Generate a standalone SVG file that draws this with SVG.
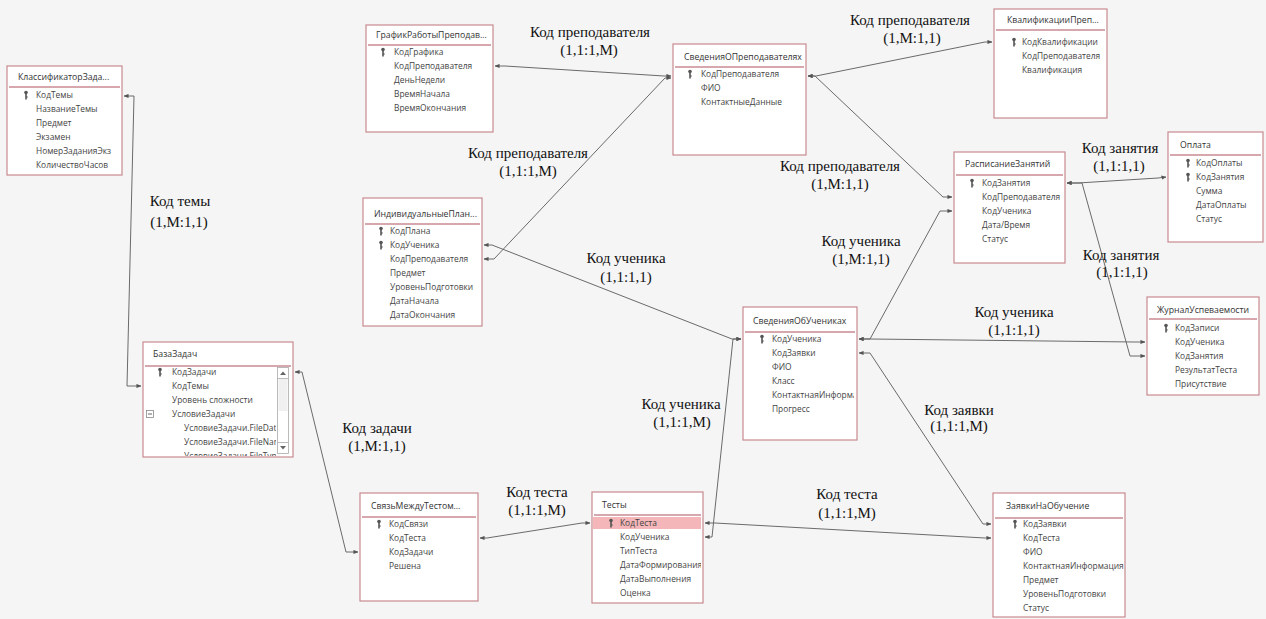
<svg xmlns="http://www.w3.org/2000/svg" width="1266" height="619" viewBox="0 0 1266 619">
<style>
.tb{fill:#fff;stroke:#c98a90;stroke-width:1.2}
.hd{stroke:#c98a90;stroke-width:1.6}
.t{font-family:"Open Sans","Noto Sans",sans-serif;font-size:8.7px;fill:#333}
.f{font-family:"Open Sans","Noto Sans",sans-serif;font-size:8.4px;fill:#444}
.c{fill:none;stroke:#6a6a6a;stroke-width:1;marker-start:url(#ar);marker-end:url(#ar)}
.lb{font-family:"Liberation Serif","Times New Roman",serif;font-size:15px;fill:#111;text-anchor:middle}
</style>
<defs>
<marker id="ar" viewBox="0 0 6 6" refX="5.5" refY="3" markerWidth="5" markerHeight="5" orient="auto-start-reverse" markerUnits="userSpaceOnUse"><path d="M0,0.5 L6,3 L0,5.5z" fill="#555"/></marker>
<g id="key"><circle cx="0" cy="-2.5" r="1.8" fill="#555"/><rect x="-0.8" y="-1.5" width="1.6" height="6" fill="#555"/><rect x="0" y="1.5" width="1.8" height="1" fill="#555"/></g>
<clipPath id="cpBZ"><rect x="144" y="343" width="132" height="113"/></clipPath>
<clipPath id="cpSU"><rect x="744" y="308" width="110" height="130"/></clipPath>
<clipPath id="cpTS"><rect x="593" y="493" width="108" height="108"/></clipPath>
</defs>
<rect width="1266" height="619" fill="#f5f5f5"/>

<g id="connectors">
<path class="c" d="M124,96 L134,96 L127,386 L141,386"/>
<path class="c" d="M495,66 L505,66 L664,76 L671,76"/>
<path class="c" d="M808,76 L816,76 L985,42 L992,42"/>
<path class="c" d="M671,78 L665,78 L494,259 L484,259"/>
<path class="c" d="M808,76 L815,76 L943,197 L952,197"/>
<path class="c" d="M484,245 L492,245 L732,339 L741,339"/>
<path class="c" d="M859,339 L870,339 L940,211 L952,211"/>
<path class="c" d="M1067,183 L1078,183 L1158,178 L1166,177"/>
<path class="c" d="M1067,183 L1082,183 L1130,356 L1145,356"/>
<path class="c" d="M859,339 L870,339 L1135,342 L1145,342"/>
<path class="c" d="M859,353 L870,353 L983,524 L991,524"/>
<path class="c" d="M741,339 L733,339 L712,537 L705,537"/>
<path class="c" d="M705,523 L715,523 L985,538 L991,538"/>
<path class="c" d="M590,523 L582,523 L487,538 L480,538"/>
<path class="c" d="M295,372 L302,372 L346,552 L358,552"/>
</g>

<g id="labels">
<text class="lb" x="180" y="206">Код темы</text><text class="lb" x="179" y="227">(1,М:1,1)</text>
<text class="lb" x="590" y="37">Код преподавателя</text><text class="lb" x="589" y="55">(1,1:1,М)</text>
<text class="lb" x="910" y="25">Код преподавателя</text><text class="lb" x="912" y="43">(1,М:1,1)</text>
<text class="lb" x="528" y="158">Код преподавателя</text><text class="lb" x="528" y="176">(1,1:1,М)</text>
<text class="lb" x="840" y="171">Код преподавателя</text><text class="lb" x="840" y="189">(1,М:1,1)</text>
<text class="lb" x="626" y="263">Код ученика</text><text class="lb" x="626" y="282">(1,1:1,1)</text>
<text class="lb" x="861" y="246">Код ученика</text><text class="lb" x="861" y="264">(1,М:1,1)</text>
<text class="lb" x="1120" y="153">Код занятия</text><text class="lb" x="1119" y="171">(1,1:1,1)</text>
<text class="lb" x="1121" y="260">Код занятия</text><text class="lb" x="1122" y="277">(1,1:1,1)</text>
<text class="lb" x="1014" y="317">Код ученика</text><text class="lb" x="1014" y="335">(1,1:1,1)</text>
<text class="lb" x="959" y="415">Код заявки</text><text class="lb" x="959" y="431">(1,1:1,М)</text>
<text class="lb" x="681" y="409">Код ученика</text><text class="lb" x="682" y="427">(1,1:1,М)</text>
<text class="lb" x="377" y="433">Код задачи</text><text class="lb" x="377" y="451">(1,М:1,1)</text>
<text class="lb" x="537" y="497">Код теста</text><text class="lb" x="537" y="515">(1,1:1,М)</text>
<text class="lb" x="847" y="499">Код теста</text><text class="lb" x="847" y="518">(1,1:1,М)</text>
</g>

<g id="t-klassifikator">
<rect class="tb" x="7" y="66" width="115" height="109"/>
<text class="t" x="18" y="80">КлассификаторЗада...</text>
<line class="hd" x1="9" y1="87" x2="120" y2="87"/>
<use href="#key" x="26" y="95"/>
<text class="f" x="36" y="98">КодТемы</text>
<text class="f" x="36" y="112">НазваниеТемы</text>
<text class="f" x="36" y="126">Предмет</text>
<text class="f" x="36" y="140">Экзамен</text>
<text class="f" x="36" y="154">НомерЗаданияЭкз</text>
<text class="f" x="36" y="168">КоличествоЧасов</text>
</g>

<g id="t-grafik">
<rect class="tb" x="366" y="25" width="127" height="107"/>
<text class="t" x="376" y="38">ГрафикРаботыПреподав...</text>
<line class="hd" x1="368" y1="45" x2="491" y2="45"/>
<use href="#key" x="383" y="52"/>
<text class="f" x="394" y="55">КодГрафика</text>
<text class="f" x="394" y="69">КодПреподавателя</text>
<text class="f" x="394" y="83">ДеньНедели</text>
<text class="f" x="394" y="97">ВремяНачала</text>
<text class="f" x="394" y="111">ВремяОкончания</text>
</g>

<g id="t-svedprep">
<rect class="tb" x="673" y="44" width="133" height="111"/>
<text class="t" x="684" y="60">СведенияОПреподавателях</text>
<line class="hd" x1="675" y1="67" x2="804" y2="67"/>
<use href="#key" x="690" y="74"/>
<text class="f" x="701" y="77">КодПреподавателя</text>
<text class="f" x="701" y="91">ФИО</text>
<text class="f" x="701" y="105">КонтактныеДанные</text>
</g>

<g id="t-kvalif">
<rect class="tb" x="994" y="9" width="113" height="109"/>
<text class="t" x="1007" y="23">КвалификацииПреп...</text>
<line class="hd" x1="996" y1="30" x2="1105" y2="30"/>
<use href="#key" x="1014" y="42"/>
<text class="f" x="1022" y="45">КодКвалификации</text>
<text class="f" x="1022" y="59">КодПреподавателя</text>
<text class="f" x="1022" y="73">Квалификация</text>
</g>

<g id="t-raspisanie">
<rect class="tb" x="954" y="152" width="111" height="111"/>
<text class="t" x="965" y="167">РасписаниеЗанятий</text>
<line class="hd" x1="956" y1="175" x2="1063" y2="175"/>
<use href="#key" x="972" y="183"/>
<text class="f" x="982" y="186">КодЗанятия</text>
<text class="f" x="982" y="200">КодПреподавателя</text>
<text class="f" x="982" y="214">КодУченика</text>
<text class="f" x="982" y="228">Дата/Время</text>
<text class="f" x="982" y="242">Статус</text>
</g>

<g id="t-oplata">
<rect class="tb" x="1168" y="132" width="95" height="110"/>
<text class="t" x="1180" y="148">Оплата</text>
<line class="hd" x1="1170" y1="155" x2="1261" y2="155"/>
<use href="#key" x="1188" y="163"/>
<use href="#key" x="1188" y="177"/>
<text class="f" x="1196" y="166">КодОплаты</text>
<text class="f" x="1196" y="180">КодЗанятия</text>
<text class="f" x="1196" y="194">Сумма</text>
<text class="f" x="1196" y="208">ДатаОплаты</text>
<text class="f" x="1196" y="222">Статус</text>
</g>

<g id="t-indplan">
<rect class="tb" x="363" y="198" width="119" height="128"/>
<text class="t" x="374" y="217">ИндивидуальныеПлан...</text>
<line class="hd" x1="365" y1="224" x2="480" y2="224"/>
<use href="#key" x="381" y="231"/>
<use href="#key" x="381" y="245"/>
<text class="f" x="390" y="234">КодПлана</text>
<text class="f" x="390" y="248">КодУченика</text>
<text class="f" x="390" y="262">КодПреподавателя</text>
<text class="f" x="390" y="276">Предмет</text>
<text class="f" x="390" y="290">УровеньПодготовки</text>
<text class="f" x="390" y="304">ДатаНачала</text>
<text class="f" x="390" y="318">ДатаОкончания</text>
</g>

<g id="t-bazazadach">
<rect class="tb" x="143" y="342" width="150" height="115"/>
<text class="t" x="153" y="357">БазаЗадач</text>
<line class="hd" x1="145" y1="366" x2="291" y2="366"/>
<g clip-path="url(#cpBZ)">
<use href="#key" x="160" y="372"/>
<text class="f" x="172" y="375">КодЗадачи</text>
<text class="f" x="172" y="389">КодТемы</text>
<text class="f" x="172" y="403">Уровень сложности</text>
<text class="f" x="172" y="417">УсловиеЗадачи</text>
<text class="f" x="184" y="431">УсловиеЗадачи.FileData</text>
<text class="f" x="184" y="445">УсловиеЗадачи.FileName</text>
<text class="f" x="184" y="459">УсловиеЗадачи.FileType</text>
</g>
<rect x="146.5" y="410.5" width="7" height="7" fill="#fff" stroke="#888" stroke-width="0.8"/>
<line x1="148" y1="414" x2="152" y2="414" stroke="#555" stroke-width="0.9"/>
<rect x="277.5" y="367.5" width="11" height="86" fill="#fff" stroke="#aaa" stroke-width="0.8"/>
<line x1="277.5" y1="378.5" x2="288.5" y2="378.5" stroke="#aaa" stroke-width="0.8"/>
<line x1="277.5" y1="442.5" x2="288.5" y2="442.5" stroke="#aaa" stroke-width="0.8"/>
<rect x="278.5" y="379" width="9" height="32" fill="#f0f0f0"/>
<path d="M280,375 L283,371.5 L286,375z" fill="#666"/>
<path d="M280,446 L283,449.5 L286,446z" fill="#666"/>
</g>

<g id="t-svedstud">
<rect class="tb" x="743" y="307" width="114" height="133"/>
<text class="t" x="753" y="324">СведенияОбУчениках</text>
<line class="hd" x1="745" y1="332" x2="855" y2="332"/>
<g clip-path="url(#cpSU)">
<use href="#key" x="762" y="339"/>
<text class="f" x="772" y="342">КодУченика</text>
<text class="f" x="772" y="356">КодЗаявки</text>
<text class="f" x="772" y="370">ФИО</text>
<text class="f" x="772" y="384">Класс</text>
<text class="f" x="772" y="398">КонтактнаяИнформация</text>
<text class="f" x="772" y="412">Прогресс</text>
</g>
</g>

<g id="t-zhurnal">
<rect class="tb" x="1147" y="297" width="112" height="98"/>
<text class="t" x="1157" y="313">ЖурналУспеваемости</text>
<line class="hd" x1="1149" y1="319" x2="1257" y2="319"/>
<use href="#key" x="1166" y="328"/>
<text class="f" x="1175" y="331">КодЗаписи</text>
<text class="f" x="1175" y="345">КодУченика</text>
<text class="f" x="1175" y="359">КодЗанятия</text>
<text class="f" x="1175" y="373">РезультатТеста</text>
<text class="f" x="1175" y="387">Присутствие</text>
</g>

<g id="t-svyaz">
<rect class="tb" x="360" y="493" width="118" height="108"/>
<text class="t" x="371" y="509">СвязьМеждуТестом...</text>
<line class="hd" x1="362" y1="517" x2="476" y2="517"/>
<use href="#key" x="379" y="524"/>
<text class="f" x="389" y="527">КодСвязи</text>
<text class="f" x="389" y="541">КодТеста</text>
<text class="f" x="389" y="555">КодЗадачи</text>
<text class="f" x="389" y="569">Решена</text>
</g>

<g id="t-testy">
<rect class="tb" x="592" y="492" width="111" height="111"/>
<text class="t" x="602" y="508">Тесты</text>
<line class="hd" x1="594" y1="515" x2="701" y2="515"/>
<rect x="593" y="517" width="108" height="12" fill="#f4b6b8"/>
<g clip-path="url(#cpTS)">
<use href="#key" x="611" y="523"/>
<text class="f" x="620" y="526">КодТеста</text>
<text class="f" x="620" y="540">КодУченика</text>
<text class="f" x="620" y="554">ТипТеста</text>
<text class="f" x="620" y="568">ДатаФормирования</text>
<text class="f" x="620" y="582">ДатаВыполнения</text>
<text class="f" x="620" y="596">Оценка</text>
</g>
</g>

<g id="t-zayavki">
<rect class="tb" x="993" y="493" width="132" height="124"/>
<text class="t" x="1006" y="509">ЗаявкиНаОбучение</text>
<line class="hd" x1="995" y1="518" x2="1123" y2="518"/>
<use href="#key" x="1015" y="524"/>
<text class="f" x="1023" y="527">КодЗаявки</text>
<text class="f" x="1023" y="541">КодТеста</text>
<text class="f" x="1023" y="555">ФИО</text>
<text class="f" x="1023" y="569">КонтактнаяИнформация</text>
<text class="f" x="1023" y="583">Предмет</text>
<text class="f" x="1023" y="597">УровеньПодготовки</text>
<text class="f" x="1023" y="611">Статус</text>
</g>
</svg>
